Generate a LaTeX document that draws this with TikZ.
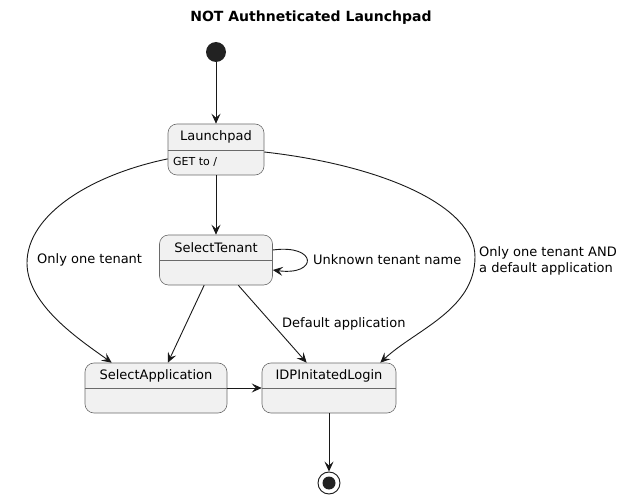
\documentclass[tikz,border=0pt]{standalone}
\usepackage{fontspec}
\setmainfont{DejaVu Sans}
\usetikzlibrary{arrows.meta,calc}
\definecolor{stfill}{HTML}{F1F1F1}
\definecolor{ink}{HTML}{181818}
\definecolor{border}{HTML}{6A6A6A}
\definecolor{dotc}{HTML}{222222}
\begin{document}
\begin{tikzpicture}[x=1pt,y=-1pt,
  state/.style={draw=border, line width=0.6pt, fill=stfill, rounded corners=9pt, inner sep=0pt, rectangle},
  sepline/.style={draw=border, line width=0.6pt},
  edge/.style={draw=ink, line width=0.9pt, -{Stealth[length=10pt,width=9pt,inset=4pt]}},
  lbl/.style={font=\fontsize{13}{16}\selectfont, text=black, inner sep=0pt},
  small/.style={font=\fontsize{11}{13}\selectfont, text=black, inner sep=0pt}]
\useasboundingbox (0,0) rectangle (622,500);
\node[font=\bfseries\fontsize{14}{16}\selectfont, inner sep=0pt] (title) at (311,18) {NOT Authneticated Launchpad};
\node[circle, fill=dotc, minimum size=20pt, inner sep=0pt] (start) at (216,52) {};
% states
\node[state, minimum width=96pt, minimum height=51pt] (launch) at (216,149.5) {};
\draw[sepline] ($(launch.west)+(0,1)$) -- ($(launch.east)+(0,1)$);
\node[lbl] (launchT) at (216,137) {Launchpad};
\node[small, anchor=west] (launchD) at (173,162) {GET to /};
\node[state, minimum width=113pt, minimum height=50pt] (tenant) at (216,260) {};
\draw[sepline] (tenant.west) -- (tenant.east);
\node[lbl] (tenantT) at (216,247.5) {SelectTenant};
\node[state, minimum width=142pt, minimum height=50pt] (selapp) at (156,388) {};
\draw[sepline] (selapp.west) -- (selapp.east);
\node[lbl] (selappT) at (156,375.5) {SelectApplication};
\node[state, minimum width=134pt, minimum height=50pt] (idp) at (329,388) {};
\draw[sepline] (idp.west) -- (idp.east);
\node[lbl] (idpT) at (329,375.5) {IDPInitatedLogin};
% end
\node[circle, draw=ink, line width=0.9pt, fill=white, minimum size=22pt, inner sep=0pt] (end) at (329,483) {};
\node[circle, fill=dotc, minimum size=13pt, inner sep=0pt] (endDot) at (end) {};
% edges
\draw[edge] (start) -- (launch);
\draw[edge] (launch) -- (tenant);
\draw[edge] (launch.191) .. controls (90,175) and (27,215) .. (27,263)
  .. controls (27,305) and (80,340) .. ($(selapp.north west)+(27,0)$);
\draw[edge] ($(launch.east)+(0,2.5)$) .. controls (380,165) and (475,205) .. (475,257)
  .. controls (475,310) and (415,330) .. ($(idp.north east)+(-16,0)$);
\draw[edge] ($(tenant.east)+(0,-10)$) .. controls (318,244) and (318,276) .. ($(tenant.east)+(0,10)$);
\draw[edge] (tenant) -- (selapp);
\draw[edge] (tenant) -- (idp);
\draw[edge] (selapp) -- (idp);
\draw[edge] (idp) -- (end);
% labels
\node[lbl, anchor=west] (l1) at (37,260) {Only one tenant};
\node[lbl, anchor=west] (l2) at (313,260) {Unknown tenant name};
\node[lbl, anchor=west, align=left] (l3) at (479,261) {Only one tenant AND\\a default application};
\node[lbl, anchor=west] (l4) at (282,324) {Default application};
\end{tikzpicture}
\end{document}
